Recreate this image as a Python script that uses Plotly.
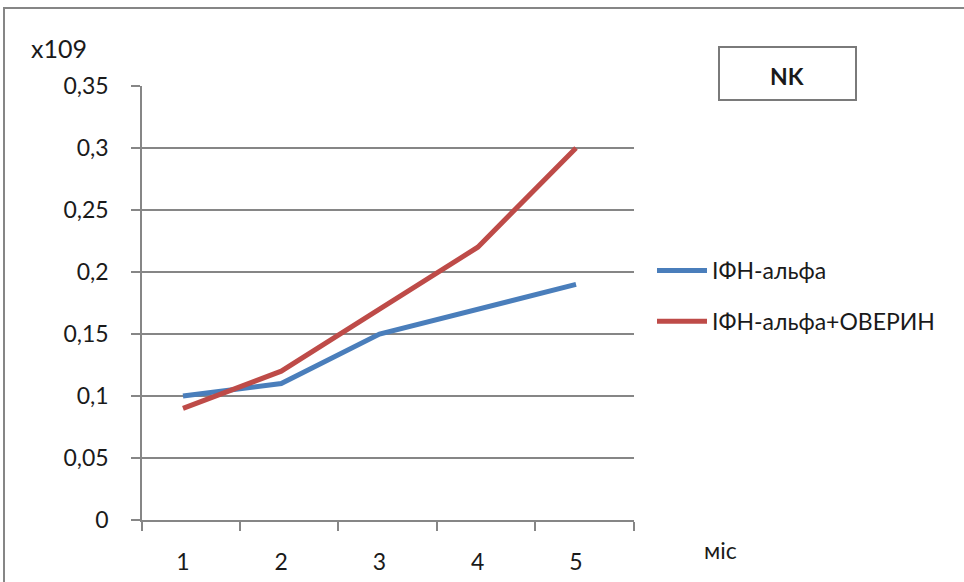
import plotly.graph_objects as go

months = [1, 2, 3, 4, 5]
month_labels = ["1", "2", "3", "4", "5"]
ifn_alpha = [0.10, 0.11, 0.15, 0.17, 0.19]
ifn_alpha_overin = [0.09, 0.12, 0.17, 0.22, 0.30]
y_ticks = [0, 0.05, 0.1, 0.15, 0.2, 0.25, 0.3, 0.35]
y_tick_labels = ["0", "0,05", "0,1", "0,15", "0,2", "0,25", "0,3", "0,35"]
x_boundaries = [0.583, 1.58, 2.578, 3.585, 4.583, 5.59]

FONT = "Lato, Open Sans, sans-serif"
GRAY = "#868686"
FS = 23

fig = go.Figure()
fig.add_trace(go.Scatter(x=months, y=ifn_alpha, mode="lines", name="ІФН-альфа",
                         line=dict(color="#4A7EBB", width=5), legendgroup="a"))
fig.add_trace(go.Scatter(x=months, y=ifn_alpha_overin, mode="lines", name="ІФН-альфа+ОВЕРИН",
                         line=dict(color="#BE4B48", width=5), legendgroup="b"))

L, R, T, B = 142, 634, 86, 520
W, H = 964, 582
pw, ph = R - L, B - T

def px_x(x):
    return (x - L) / pw

def px_y(y):
    return (B - y) / ph

fig.update_layout(
    width=W, height=H,
    margin=dict(l=L, r=W - R, t=T, b=H - B, pad=0, autoexpand=False),
    paper_bgcolor="white", plot_bgcolor="white",
    font=dict(family=FONT, size=FS, color="#1a1a1a"),
    showlegend=True,
    legend=dict(x=px_x(652), y=px_y(249), xanchor="left", yanchor="top",
                font=dict(family=FONT, size=FS), tracegroupgap=18,
                bgcolor="rgba(0,0,0,0)", itemwidth=50),
    xaxis=dict(range=[x_boundaries[0], x_boundaries[-1]], automargin=False,
               tickvals=months, ticktext=month_labels, ticks="",
               minor=dict(tickvals=x_boundaries, ticks="outside", ticklen=9,
                          tickcolor=GRAY, tickwidth=1.5, showgrid=False),
               showline=True, linecolor=GRAY, linewidth=1.5,
               showgrid=False, zeroline=False, ticklabelstandoff=21,
               tickfont=dict(family=FONT, size=FS)),
    yaxis=dict(range=[0, 0.35], tickvals=y_ticks, ticktext=y_tick_labels, automargin=False,
               showline=True, linecolor=GRAY, linewidth=1.5,
               ticks="outside", ticklen=9, tickcolor=GRAY, tickwidth=1.5,
               showgrid=True, gridcolor=GRAY, gridwidth=1.5, zeroline=False,
               ticklabelstandoff=18, tickfont=dict(family=FONT, size=FS)),
    shapes=[
        dict(type="rect", xref="paper", yref="paper",
             x0=px_x(4), x1=px_x(990), y0=px_y(8), y1=px_y(620),
             line=dict(color=GRAY, width=2), fillcolor="rgba(0,0,0,0)", layer="below"),
        dict(type="rect", xref="paper", yref="paper",
             x0=px_x(719), x1=px_x(856), y0=px_y(47), y1=px_y(100),
             line=dict(color="#7a7a7a", width=2), fillcolor="rgba(0,0,0,0)"),
    ],
    annotations=[
        dict(text="<b>NK</b>", xref="paper", yref="paper", x=px_x(787), y=px_y(76),
             xanchor="center", yanchor="middle",
             showarrow=False, font=dict(family=FONT, size=FS, color="#1a1a1a")),
        dict(text="x109", xref="paper", yref="paper", x=px_x(29), y=px_y(48),
             xanchor="left", yanchor="middle", showarrow=False, font=dict(family=FONT, size=25)),
        dict(text="міс", xref="paper", yref="paper", x=px_x(702), y=px_y(550),
             xanchor="left", yanchor="middle", showarrow=False, font=dict(family=FONT, size=FS)),
    ],
)

fig.write_html("out.html", config={"displayModeBar": False},
               post_script="document.body.style.margin='0';")
